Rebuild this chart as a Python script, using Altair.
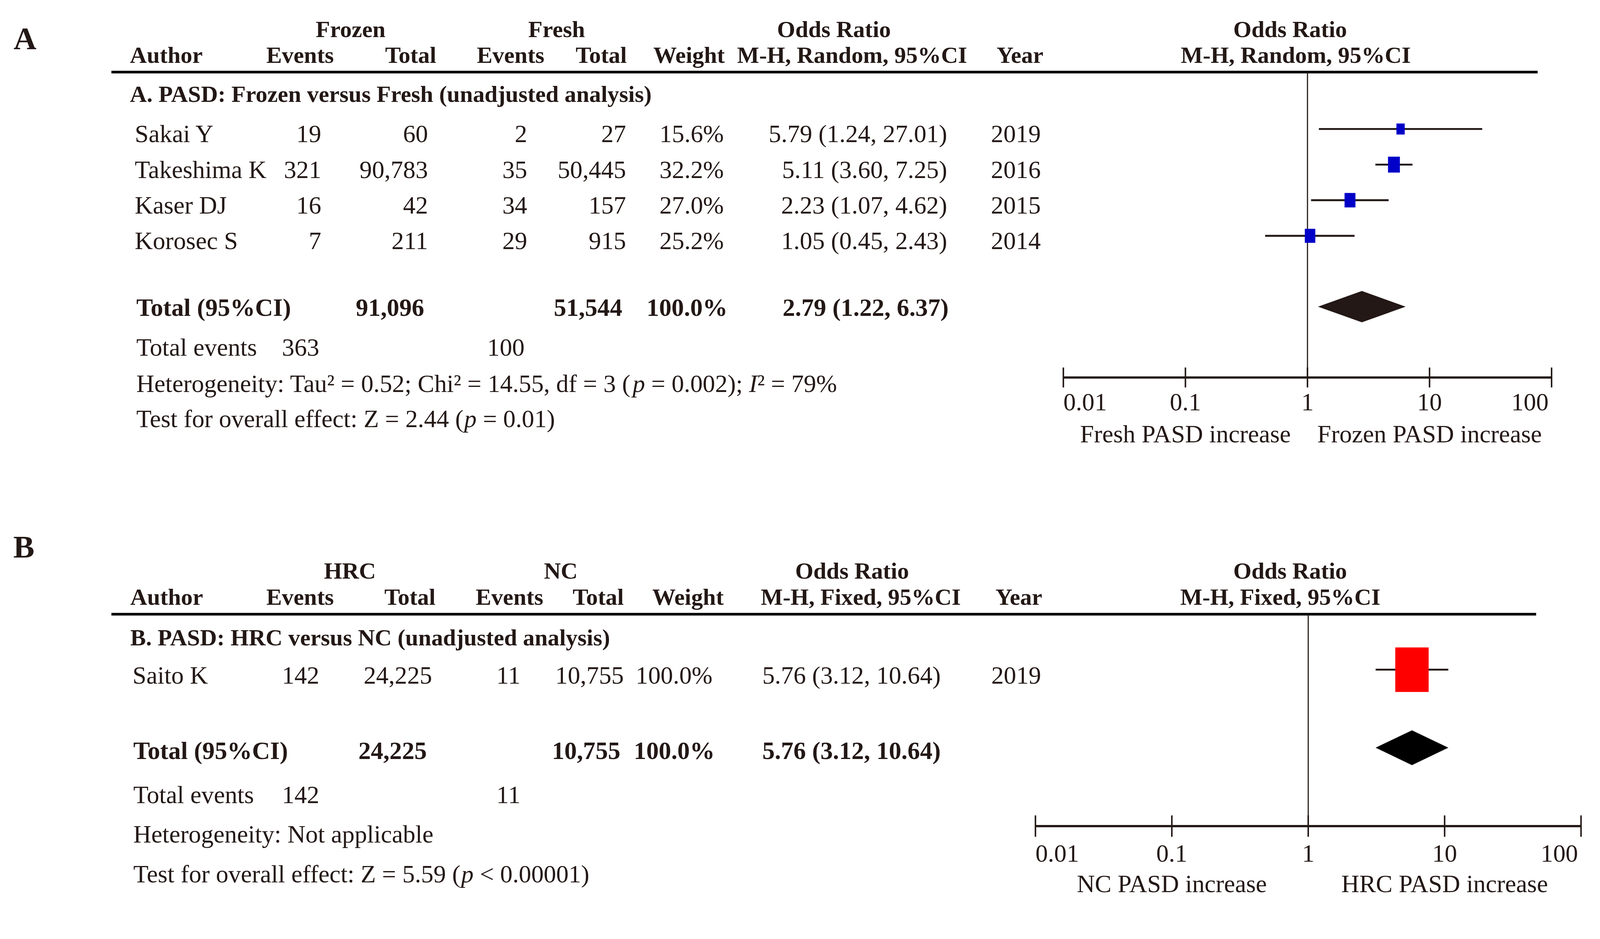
import altair as alt
import pandas as pd

FONT = "Liberation Serif"
INK = "#231815"
W = 4224
H = 2350
SHIFT = 39   # the page places the drawing lower; compensate
FS = 66      # body text size
FSH = 62     # header text size

# ---------------- Panel A values ----------------
authors_a = ["Sakai Y", "Takeshima K", "Kaser DJ", "Korosec S"]
frozen_events = [19, 321, 16, 7]
frozen_totals = [60, 90783, 42, 211]
fresh_events = [2, 35, 34, 29]
fresh_totals = [27, 50445, 157, 915]
weights_a = [15.6, 32.2, 27.0, 25.2]
or_a = [5.79, 5.11, 2.23, 1.05]
lo_a = [1.24, 3.60, 1.07, 0.45]
hi_a = [27.01, 7.25, 4.62, 2.43]
years_a = [2019, 2016, 2015, 2014]
pooled_a = [2.79, 1.22, 6.37]
sum_totals_a = [91096, 51544]
sum_events_a = [363, 100]
groups_a = ["Frozen", "Fresh"]
method_a = "M-H, Random, 95%CI"
subtitle_a = "A. PASD: Frozen versus Fresh (unadjusted analysis)"
het_a = [("Heterogeneity: Tau² = 0.52; Chi² = 14.55, df = 3 (", False), ("p", True),
         (" = 0.002); ", False), ("I", True), ("² = 79%", False)]
test_a = [("Test for overall effect: Z = 2.44 (", False), ("p", True), (" = 0.01)", False)]
directions_a = ["Fresh PASD increase", "Frozen PASD increase"]

# ---------------- Panel B values ----------------
authors_b = ["Saito K"]
hrc_events = [142]
hrc_totals = [24225]
nc_events = [11]
nc_totals = [10755]
weights_b = [100.0]
or_b = [5.76]
lo_b = [3.12]
hi_b = [10.64]
years_b = [2019]
pooled_b = [5.76, 3.12, 10.64]
sum_totals_b = [24225, 10755]
sum_events_b = [142, 11]
groups_b = ["HRC", "NC"]
method_b = "M-H, Fixed, 95%CI"
subtitle_b = "B. PASD: HRC versus NC (unadjusted analysis)"
het_b = [("Heterogeneity: Not applicable", False)]
test_b = [("Test for overall effect: Z = 5.59 (", False), ("p", True),
          (" < 0.00001)", False)]
directions_b = ["NC PASD increase", "HRC PASD increase"]

tick_values = [0.01, 0.1, 1, 10, 100]
tick_labels = ["0.01", "0.1", "1", "10", "100"]
direction_at = [0.1, 10]

SQUARE = "M-0.75,-1L0.75,-1L0.75,1L-0.75,1Z"

# Times-compatible advance widths (per 1000 em) used to chain roman/italic pieces
ADV = {" ": 250, "(": 333, ")": 333, ";": 278, ",": 250, ".": 250, ":": 278, "=": 564,
       "<": 564, "%": 833, "²": 300, "H": 722, "T": 611, "C": 667, "I": 333, "Z": 611,
       "N": 722, "a": 444, "b": 500, "c": 444, "d": 500, "e": 444, "f": 333, "g": 500,
       "h": 500, "i": 278, "l": 278, "n": 500, "o": 500, "p": 500, "r": 333, "s": 389,
       "t": 278, "u": 500, "v": 500, "y": 500}


def adv(s, fs):
    w = sum(ADV.get(ch, 500) for ch in s) * fs / 1000.0
    if s.startswith("T"):
        w -= 4  # kerning of T-a / T-e
    return w


# ---------------- layout (rows = y units, columns = x px) ----------------
LAY_A = dict(top=0, height=1240, rows=13.136, label=1.00, hdr1=0.73, hdr2=1.45,
             rule=1.91, sub=2.55, first=3.67, mark=-0.16, total=8.55, dia=8.50,
             dia_half=0.44, tev=9.67, het=10.69, test=11.67, axis=10.49, tick=0.28,
             tlab=11.20, dlab=12.10, frange=[2810, 4104], rule_x=[287, 4067],
             smax=5478, mcolor="#0000C8", dcolor=INK, letter="A")
COL_A = dict(label=58, author_hdr=336, author=349, summary=353, ev1_hdr=787, ev1=843,
             ev1_sum=838, tot1_hdr=1148, tot1=1126, tot1_sum=1116, grp1=921,
             ev2_hdr=1345, ev2=1389, ev2_sum=1382, tot2_hdr=1653, tot2=1651,
             tot2_sum=1641, grp2=1467, wt_hdr=1818, wt=1910, wt_sum=1920,
             or_hdr1=2202, or_hdr2=2250, or_=2502, or_sum=2506, yr_hdr=2695, yr=2684,
             f_hdr1=3411, f_hdr2=3426)

LAY_B = dict(top=1240, height=1149, rows=10.943, label=1.93, hdr1=2.52, hdr2=3.18,
             rule=3.60, sub=4.21, first=5.16, mark=-0.16, total=7.07, dia=6.97,
             dia_half=0.44, tev=8.18, het=9.18, test=10.18, axis=8.95, tick=0.27,
             tlab=9.66, dlab=10.43, frange=[2736, 4182], rule_x=[287, 4063],
             smax=13924, mcolor="#FF0000", dcolor="#000000", letter="B")
COL_B = dict(label=55, author_hdr=337, author=343, summary=345, ev1_hdr=787, ev1=838,
             ev1_sum=838, tot1_hdr=1146, tot1=1137, tot1_sum=1123, grp1=919,
             ev2_hdr=1342, ev2=1371, ev2_sum=1371, tot2_hdr=1645, tot2=1645,
             tot2_sum=1636, grp2=1478, wt_hdr=1815, wt=1880, wt_sum=1886,
             or_hdr1=2250, or_hdr2=2273, or_=2485, or_sum=2485, yr_hdr=2692, yr=2685,
             f_hdr1=3411, f_hdr2=3385)


def n(v):
    return f"{v:,}"


def orf(e, l, h):
    return f"{e:.2f} ({l:.2f}, {h:.2f})"


def panel_layers(L, C, authors, ev1, tot1, ev2, tot2, wts, est, lo, hi, years,
                 pooled, sum_tot, sum_ev, groups, method, subtitle, het, test, dirs):
    y0 = L["top"] - SHIFT
    ysc = alt.Scale(domain=[0, L["rows"]], range=[y0, y0 + L["height"]],
                    nice=False, zero=False)
    xt = alt.Scale(domain=[0, W], range=[0, W], nice=False, zero=False)
    xf = alt.Scale(type="log", domain=[0.01, 100], range=L["frange"], nice=False)

    T = []

    def add(text, x, y, align, bold=False, fs=FS, italic=False):
        T.append(dict(label=text, px=float(x), row=float(y), al=align,
                      wt="bold" if bold else "normal", fs=int(fs),
                      st="italic" if italic else "normal"))

    add(L["letter"], C["label"], L["label"], "center", True, 84)
    add(groups[0], C["grp1"], L["hdr1"], "center", True, FSH)
    add(groups[1], C["grp2"], L["hdr1"], "center", True, FSH)
    add("Odds Ratio", C["or_hdr1"], L["hdr1"], "center", True, FSH)
    add("Odds Ratio", C["f_hdr1"], L["hdr1"], "center", True, FSH)
    add("Author", C["author_hdr"], L["hdr2"], "left", True, FSH)
    add("Events", C["ev1_hdr"], L["hdr2"], "center", True, FSH)
    add("Total", C["tot1_hdr"], L["hdr2"], "right", True, FSH)
    add("Events", C["ev2_hdr"], L["hdr2"], "center", True, FSH)
    add("Total", C["tot2_hdr"], L["hdr2"], "right", True, FSH)
    add("Weight", C["wt_hdr"], L["hdr2"], "center", True, FSH)
    add(method, C["or_hdr2"], L["hdr2"], "center", True, FSH)
    add("Year", C["yr_hdr"], L["hdr2"], "center", True, FSH)
    add(method, C["f_hdr2"], L["hdr2"], "center", True, FSH)
    add(subtitle, C["author_hdr"], L["sub"], "left", True, FSH)

    for i in range(len(authors)):
        y = L["first"] + i
        add(authors[i], C["author"], y, "left")
        add(n(ev1[i]), C["ev1"], y, "right")
        add(n(tot1[i]), C["tot1"], y, "right")
        add(n(ev2[i]), C["ev2"], y, "right")
        add(n(tot2[i]), C["tot2"], y, "right")
        add(f"{wts[i]:.1f}%", C["wt"], y, "right")
        add(orf(est[i], lo[i], hi[i]), C["or_"], y, "right")
        add(str(years[i]), C["yr"], y, "center")

    add("Total (95%CI)", C["summary"], L["total"], "left", True)
    add(n(sum_tot[0]), C["tot1_sum"], L["total"], "right", True)
    add(n(sum_tot[1]), C["tot2_sum"], L["total"], "right", True)
    add(f"{sum(wts):.1f}%", C["wt_sum"], L["total"], "right", True)
    add(orf(*pooled), C["or_sum"], L["total"], "right", True)
    add("Total events", C["summary"], L["tev"], "left")
    add(n(sum_ev[0]), C["ev1_sum"], L["tev"], "right")
    add(n(sum_ev[1]), C["ev2_sum"], L["tev"], "right")
    for pieces, rowkey in [(het, "het"), (test, "test")]:
        x = C["summary"]
        for txt, ital in pieces:
            lead = len(txt) - len(txt.lstrip(" "))
            x += lead * ADV[" "] * FS / 1000.0   # SVG drops leading spaces
            core = txt.lstrip(" ")
            add(core, x, L[rowkey], "left", False, FS, ital)
            x += adv(core, FS)

    tdf = pd.DataFrame(T)
    layers = []
    for (al, wt, fs, st), sub in tdf.groupby(["al", "wt", "fs", "st"]):
        layers.append(
            alt.Chart(sub[["label", "px", "row"]].reset_index(drop=True))
            .mark_text(align=al, baseline="middle", font=FONT, fontWeight=wt,
                       fontStyle=st, fontSize=int(fs), color=INK)
            .encode(x=alt.X("px:Q", scale=xt, axis=None),
                    y=alt.Y("row:Q", scale=ysc, axis=None),
                    text="label:N")
        )

    # header rule
    hr = pd.DataFrame(dict(px=[L["rule_x"][0]], px2=[L["rule_x"][1]], row=[L["rule"]]))
    layers.append(alt.Chart(hr).mark_rule(color="#000000", strokeWidth=7).encode(
        x=alt.X("px:Q", scale=xt, axis=None), x2="px2:Q",
        y=alt.Y("row:Q", scale=ysc, axis=None)))

    # null-effect line
    ref = pd.DataFrame(dict(est=[1.0], row=[L["rule"]], row2=[L["axis"]]))
    layers.append(alt.Chart(ref).mark_rule(color=INK, strokeWidth=3).encode(
        x=alt.X("est:Q", scale=xf, axis=None),
        y=alt.Y("row:Q", scale=ysc, axis=None), y2="row2:Q"))

    # study CIs and boxes
    st_ = pd.DataFrame(dict(est=est, lo=lo, hi=hi, w=wts))
    st_["row"] = [L["first"] + i + L["mark"] for i in range(len(est))]
    layers.append(alt.Chart(st_).mark_rule(color=INK, strokeWidth=5).encode(
        x=alt.X("lo:Q", scale=xf, axis=None), x2="hi:Q",
        y=alt.Y("row:Q", scale=ysc, axis=None)))
    layers.append(alt.Chart(st_).mark_point(shape=SQUARE, filled=True, opacity=1,
                                            strokeWidth=0, color=L["mcolor"]).encode(
        x=alt.X("est:Q", scale=xf, axis=None),
        y=alt.Y("row:Q", scale=ysc, axis=None),
        size=alt.Size("w:Q", scale=alt.Scale(domain=[0, 100], range=[0, L["smax"]]),
                      legend=None)))

    # pooled diamond
    c, h = L["dia"], L["dia_half"]
    dm = pd.DataFrame(dict(est=[pooled[1], pooled[0], pooled[2]],
                           row=[c, c - h, c], row2=[c, c + h, c]))
    layers.append(alt.Chart(dm).mark_area(color=L["dcolor"], opacity=1).encode(
        x=alt.X("est:Q", scale=xf, axis=None),
        y=alt.Y("row:Q", scale=ysc, axis=None), y2="row2:Q"))

    # axis
    ax = pd.DataFrame(dict(a=[tick_values[0]], b=[tick_values[-1]], row=[L["axis"]]))
    layers.append(alt.Chart(ax).mark_rule(color=INK, strokeWidth=6).encode(
        x=alt.X("a:Q", scale=xf, axis=None), x2="b:Q",
        y=alt.Y("row:Q", scale=ysc, axis=None)))
    tk = pd.DataFrame(dict(est=tick_values, lab=tick_labels,
                           row=[L["axis"] - L["tick"]] * len(tick_values),
                           row2=[L["axis"] + L["tick"]] * len(tick_values),
                           rl=[L["tlab"]] * len(tick_values)))
    layers.append(alt.Chart(tk).mark_rule(color=INK, strokeWidth=4).encode(
        x=alt.X("est:Q", scale=xf, axis=None),
        y=alt.Y("row:Q", scale=ysc, axis=None), y2="row2:Q"))
    parts = [(tk.iloc[[0]], "left", 0), (tk.iloc[1:-1], "center", 0),
             (tk.iloc[[-1]], "right", -8)]
    for part, align, dx in parts:
        layers.append(alt.Chart(part.reset_index(drop=True))
                      .mark_text(align=align, baseline="middle", font=FONT,
                                 fontSize=FS, color=INK, dx=dx)
                      .encode(x=alt.X("est:Q", scale=xf, axis=None),
                              y=alt.Y("rl:Q", scale=ysc, axis=None),
                              text="lab:N"))
    dl = pd.DataFrame(dict(est=direction_at, lab=dirs, row=[L["dlab"]] * 2))
    layers.append(alt.Chart(dl).mark_text(align="center", baseline="middle", font=FONT,
                                          fontSize=FS, color=INK)
                  .encode(x=alt.X("est:Q", scale=xf, axis=None),
                          y=alt.Y("row:Q", scale=ysc, axis=None),
                          text="lab:N"))
    return layers


layers_a = panel_layers(LAY_A, COL_A, authors_a, frozen_events, frozen_totals,
                        fresh_events, fresh_totals, weights_a, or_a, lo_a, hi_a, years_a,
                        pooled_a, sum_totals_a, sum_events_a, groups_a, method_a,
                        subtitle_a, het_a, test_a, directions_a)
layers_b = panel_layers(LAY_B, COL_B, authors_b, hrc_events, hrc_totals, nc_events,
                        nc_totals, weights_b, or_b, lo_b, hi_b, years_b, pooled_b,
                        sum_totals_b, sum_events_b, groups_b, method_b, subtitle_b,
                        het_b, test_b, directions_b)

chart = (alt.layer(*layers_a, *layers_b)
         .resolve_scale(x="independent", y="independent", size="independent")
         .properties(width=W, height=H, padding=0, background="white",
                     autosize=alt.AutoSizeParams(type="none"))
         .configure_view(stroke=None))

chart.save("out.html", embed_options={"renderer": "svg", "actions": False})
